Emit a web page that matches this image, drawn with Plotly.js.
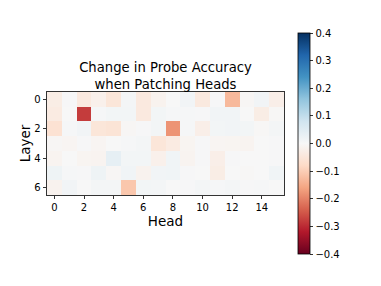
<!DOCTYPE html>
<html>
<head>
<meta charset="utf-8">
<script src="https://cdn.plot.ly/plotly-3.0.1.min.js"></script>
<style>html,body{margin:0;padding:0;background:#fff}#chart{width:381px;height:286px}</style>
</head>
<body>
<div id="chart"></div>
<script>
const heads = [0,1,2,3,4,5,6,7,8,9,10,11,12,13,14,15];
const layers = [0,1,2,3,4,5,6];
const layer0 = [-0.03, 0.003, -0.04, -0.02, -0.05, 0.008, -0.04, -0.015, 0.0, 0.012, -0.04, 0.003, -0.13, -0.005, 0.012, -0.025];
const layer1 = [-0.035, 0.0, -0.28, 0.005, 0.01, 0.01, -0.04, 0.01, 0.005, 0.005, 0.003, 0.012, 0.012, 0.0, -0.03, -0.003];
const layer2 = [-0.06, 0.005, 0.012, -0.05, -0.055, -0.005, 0.003, 0.01, -0.18, 0.005, -0.025, 0.01, 0.012, 0.01, -0.003, 0.008];
const layer3 = [-0.005, -0.008, 0.003, -0.008, 0.0, 0.005, 0.008, -0.05, -0.035, -0.01, 0.003, -0.008, -0.01, -0.012, 0.0, 0.003];
const layer4 = [-0.012, 0.0, -0.01, -0.012, 0.035, 0.01, 0.01, -0.02, 0.015, -0.012, 0.003, -0.025, 0.003, 0.0, 0.0, 0.003];
const layer5 = [0.02, 0.005, 0.003, 0.02, -0.005, 0.015, -0.015, 0.012, 0.015, 0.003, 0.0, -0.03, 0.0, -0.003, 0.0, 0.015];
const layer6 = [-0.015, 0.012, 0.0, 0.008, 0.008, -0.11, 0.01, 0.008, 0.0, 0.003, 0.008, 0.005, 0.008, 0.003, 0.005, 0.0];
const xTicks = [0,2,4,6,8,10,12,14];
const yTicks = [0,2,4,6];

const rdbu = [
  [0.0,'#67001f'],[0.1,'#b2182b'],[0.2,'#d6604d'],[0.3,'#f4a582'],[0.4,'#fddbc7'],
  [0.5,'#f7f7f7'],[0.6,'#d1e5f0'],[0.7,'#92c5de'],[0.8,'#4393c3'],[0.9,'#2166ac'],[1.0,'#053061']
];

const trace = {
  type: 'heatmap',
  x: heads,
  y: layers,
  z: [layer0, layer1, layer2, layer3, layer4, layer5, layer6],
  zmin: -0.4, zmax: 0.4,
  colorscale: rdbu,
  showscale: true,
  hoverinfo: 'skip',
  colorbar: {
    x: 1.059, xanchor: 'left', xpad: 0,
    y: 0.5, yanchor: 'middle', ypad: 0,
    thickness: 12,
    len: 221, lenmode: 'pixels',
    outlinewidth: 0.8, outlinecolor: '#000',
    ticks: 'outside', ticklen: 3.5, tickwidth: 0.8, tickcolor: '#000',
    tick0: -0.4, dtick: 0.1, tickformat: '.1f',
    tickfont: {family: 'DejaVu Sans', size: 10, color: '#000'}
  }
};

const layout = {
  width: 381, height: 286,
  margin: {l: 47, r: 97, t: 92, b: 91},
  paper_bgcolor: '#fff', plot_bgcolor: '#fff',
  font: {family: 'DejaVu Sans', color: '#000'},
  title: {
    text: 'Change in Probe Accuracy<br>when Patching Heads',
    font: {family: 'DejaVu Sans', size: 13.2, color: '#000'},
    x: 0.5, xref: 'paper', xanchor: 'center',
    y: 1 - 72/286, yref: 'container', yanchor: 'top'
  },
  xaxis: {
    range: [-0.5, 15.5],
    tickvals: xTicks, ticktext: xTicks.map(String),
    ticks: 'outside', ticklen: 3.5, tickwidth: 0.8, tickcolor: '#000',
    tickfont: {size: 10, color: '#000'},
    showline: true, mirror: true, linecolor: '#000', linewidth: 0.8,
    showgrid: false, zeroline: false,
    title: {text: 'Head', font: {size: 13.5, color: '#000'}, standoff: 1}
  },
  yaxis: {
    range: [6.5, -0.5],
    tickvals: yTicks, ticktext: yTicks.map(String),
    ticks: 'outside', ticklen: 3.5, tickwidth: 0.8, tickcolor: '#000',
    tickfont: {size: 10, color: '#000'},
    showline: true, mirror: true, linecolor: '#000', linewidth: 0.8,
    showgrid: false, zeroline: false,
    title: {text: 'Layer', font: {size: 13.5, color: '#000'}, standoff: 0}
  }
};

Plotly.newPlot('chart', [trace], layout, {displayModeBar: false, staticPlot: true});
</script>
</body>
</html>
